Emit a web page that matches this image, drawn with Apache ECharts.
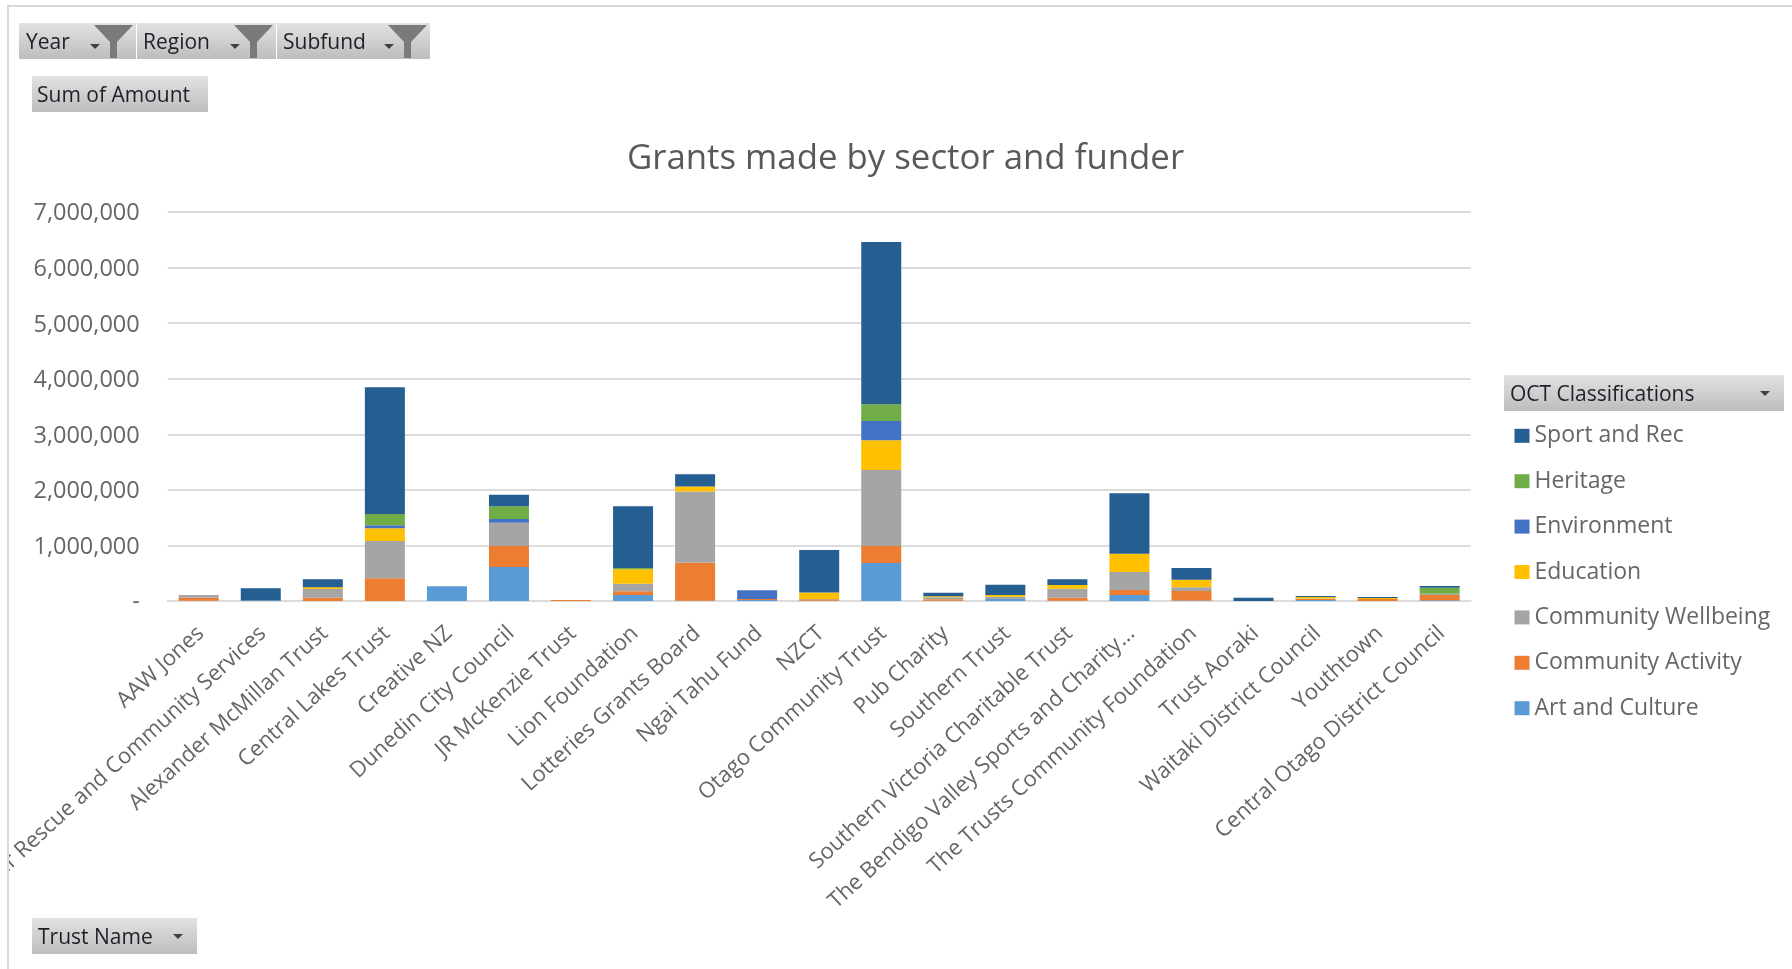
<!DOCTYPE html>
<html><head><meta charset="utf-8">
<style>html,body{margin:0;padding:0;background:#fff}#c{width:1792px;height:969px}</style>
<script src="https://cdn.jsdelivr.net/npm/echarts@6/dist/echarts.min.js"></script>
</head><body><div id="c"></div>
<script>
const categories = ["AAW Jones","Air Rescue and Community Services","Alexander McMillan Trust","Central Lakes Trust","Creative NZ","Dunedin City Council","JR McKenzie Trust","Lion Foundation","Lotteries Grants Board","Ngai Tahu Fund","NZCT","Otago Community Trust","Pub Charity","Southern Trust","Southern Victoria Charitable Trust","The Bendigo Valley Sports and Charity...","The Trusts Community Foundation","Trust Aoraki","Waitaki District Council","Youthtown","Central Otago District Council"];
const artAndCulture     = [5000,8000,0,0,264000,612000,0,108000,5000,20000,5000,684000,5000,36000,5000,108000,10000,0,20000,0,15000];
const communityActivity = [55000,0,60000,408000,0,378000,20000,66000,684000,15000,25000,306000,25000,0,55000,90000,170000,0,15000,36000,93000];
const communityWellbeing= [48000,0,156000,672000,0,420000,0,138000,1280000,0,5000,1368000,36000,42000,162000,324000,66000,0,10000,0,24000];
const education         = [0,0,30000,228000,0,0,0,258000,90000,0,120000,534000,18000,30000,66000,330000,138000,0,25000,18000,0];
const environment       = [0,0,0,54000,0,66000,0,0,0,160000,0,348000,0,0,0,0,0,0,0,0,0];
const heritage          = [0,0,0,204000,0,228000,0,24000,0,0,0,300000,0,0,0,0,0,0,0,0,108000];
const sportAndRec       = [0,220000,144000,2280000,0,210000,0,1110000,220000,0,762000,2922000,66000,186000,102000,1086000,210000,60000,20000,18000,30000];
const seriesDefs = [
  ["Art and Culture",artAndCulture,"#5B9BD5"],
  ["Community Activity",communityActivity,"#ED7D31"],
  ["Community Wellbeing",communityWellbeing,"#A5A5A5"],
  ["Education",education,"#FFC000"],
  ["Environment",environment,"#4472C4"],
  ["Heritage",heritage,"#70AD47"],
  ["Sport and Rec",sportAndRec,"#255E91"]
];
const legendOrder = ["Sport and Rec","Heritage","Environment","Education","Community Wellbeing","Community Activity","Art and Culture"];
const FONT = '"Open Sans", "Noto Sans", sans-serif';
const grey = {x:0,y:0,x2:0,y2:1,type:'linear',colorStops:[{offset:0,color:'#e2e2e2'},{offset:1,color:'#bdbdbd'}]};

function arrow(cx,cy){return {type:'polygon',shape:{points:[[cx-5,cy-3],[cx+5,cy-3],[cx,cy+2]]},style:{fill:'#404040'},z:50};}
function funnel(x){return {type:'polygon',shape:{points:[[x,25],[x+39,25],[x+23,42],[x+23,58],[x+16,58],[x+16,42]]},style:{fill:'#7a7a7a'},z:50};}
function button(x,y,w,label,tx){return [
  {type:'rect',shape:{x,y,width:w,height:36},style:{fill:grey},z:40},
  {type:'text',x:tx,y:y+20,style:{text:label,font:'21px '+FONT,fill:'#1f1f2a',verticalAlign:'middle',textVerticalAlign:'middle'},z:50}
];}
const graphics = [
  {type:'rect',shape:{x:0,y:0,width:7,height:969},style:{fill:'#fff'},z:90},
  {type:'rect',shape:{x:7,y:5,width:2,height:964},style:{fill:'#d9d9d9'},z:91},
  {type:'rect',shape:{x:7,y:5,width:1785,height:2},style:{fill:'#d9d9d9'},z:91},
  ...button(19,23,117,'Year',26),arrow(95,47),funnel(94),
  ...button(137,23,139,'Region',143),arrow(235,47),funnel(234),
  ...button(277,23,153,'Subfund',283),arrow(389,47),funnel(388),
  ...button(32,76,176,'Sum of Amount',37),
  ...button(32,918,165,'Trust Name',38),arrow(178,937),
  ...button(1504,375,280,'OCT Classifications',1510),arrow(1765,394)
];
const chart = echarts.init(document.getElementById('c'),null,{renderer:'canvas'});
chart.setOption({
  animation:false,
  backgroundColor:'#fff',
  title:{text:'Grants made by sector and funder',left:900.5,top:137,textAlign:'center',textStyle:{fontFamily:FONT,fontSize:34.8,fontWeight:'normal',color:'#595959'}},
  legend:{orient:'vertical',left:1509.5,top:419.3,data:legendOrder,icon:'rect',itemWidth:15,itemHeight:14,itemGap:22.4,
    textStyle:{fontFamily:FONT,fontSize:23,color:'#666',lineHeight:20,padding:[0,0,0,0]},selectedMode:false},
  grid:{left:167.7,right:321.3,top:212,bottom:368,containLabel:false,outerBoundsMode:'none'},
  xAxis:{type:'category',data:categories,
    axisTick:{show:false},axisLine:{lineStyle:{color:'#dcdcdc',width:2}},
    axisLabel:{interval:0,rotate:42.5,margin:27,fontFamily:FONT,fontSize:22,color:'#666',
      formatter:v=>'{a|'+v+'}',
      rich:{a:{fontFamily:FONT,fontSize:22,color:'#666',padding:[6,0,0,0]}}}},
  yAxis:{type:'value',min:0,max:7000000,interval:1000000,
    axisLine:{show:false},axisTick:{show:false},
    splitLine:{lineStyle:{color:'#dcdcdc',width:2}},
    axisLabel:{margin:28,fontFamily:FONT,fontSize:23.5,color:'#666',
      formatter:v=>'{a|'+(v===0?'-':v.toLocaleString('en-US'))+'}',
      rich:{a:{fontFamily:FONT,fontSize:23.5,color:'#666',padding:[3.5,0,0,0]}}}},
  graphic:{elements:graphics},
  series:seriesDefs.map(([name,data,color])=>({name,type:'bar',stack:'total',data,barWidth:40,itemStyle:{color}}))
});
</script></body></html>
